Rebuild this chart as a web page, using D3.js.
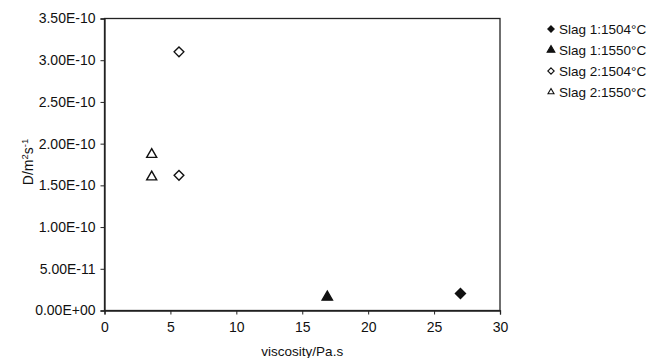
<!DOCTYPE html>
<html>
<head>
<meta charset="utf-8">
<script src="https://cdn.jsdelivr.net/npm/d3@7"></script>
<style>
  body { margin: 0; background: #fff; }
  text { font-family: "Liberation Sans", Arial, sans-serif; fill: #111; }
</style>
</head>
<body>
<svg id="chart" width="652" height="358"></svg>
<script>
// series: [viscosity Pa.s, D m2/s]
const slag1_1504 = [[27.0, 2.05e-11]];
const slag1_1550 = [[16.9, 1.6e-11]];
const slag2_1504 = [[5.65, 3.1e-10], [5.65, 1.62e-10]];
const slag2_1550 = [[3.58, 1.87e-10], [3.58, 1.60e-10]];

const seriesNames = ["Slag 1:1504°C", "Slag 1:1550°C", "Slag 2:1504°C", "Slag 2:1550°C"];
const xTicks = [0, 5, 10, 15, 20, 25, 30];
const yTicks = [0, 5e-11, 1e-10, 1.5e-10, 2e-10, 2.5e-10, 3e-10, 3.5e-10];
const yTickLabels = ["0.00E+00", "5.00E-11", "1.00E-10", "1.50E-10", "2.00E-10", "2.50E-10", "3.00E-10", "3.50E-10"];

const svg = d3.select("#chart");
const plotL = 104.5, plotR = 500, plotT = 18.5, plotB = 310.5;

const x = d3.scaleLinear().domain([0, 30]).range([plotL, plotR]);
const y = d3.scaleLinear().domain([0, 3.5e-10]).range([plotB, plotT]);

// plot frame
svg.append("rect").attr("x", plotL).attr("y", plotT)
  .attr("width", plotR - plotL).attr("height", plotB - plotT)
  .attr("fill", "none").attr("stroke", "#222").attr("stroke-width", 1.3);

const xAxis = svg.append("g").attr("transform", `translate(0,${plotB})`)
  .call(d3.axisBottom(x).tickValues(xTicks).tickSize(4).tickPadding(8).tickFormat(d3.format("d")));
const yAxis = svg.append("g").attr("transform", `translate(${plotL},0)`)
  .call(d3.axisLeft(y).tickValues(yTicks).tickSize(4).tickPadding(5)
    .tickFormat((d, i) => yTickLabels[i]));
[xAxis, yAxis].forEach(a => {
  a.select(".domain").attr("stroke", "#222").attr("stroke-width", 1.3);
  a.selectAll(".tick line").attr("stroke", "#222");
  a.selectAll("text").attr("font-size", 14).attr("fill", "#111")
    .style("font-family", "'Liberation Sans', Arial, sans-serif");
});

// axis titles
svg.append("text").attr("x", (plotL + plotR) / 2).attr("y", 356)
  .attr("text-anchor", "middle").attr("font-size", 13.5).text("viscosity/Pa.s");
const yt = svg.append("text").attr("transform", "translate(33,162) rotate(-90)")
  .attr("text-anchor", "middle").attr("font-size", 14);
yt.append("tspan").text("D/m");
yt.append("tspan").attr("font-size", 9.5).attr("dy", -5).text("2");
yt.append("tspan").attr("dy", 5).text("s");
yt.append("tspan").attr("font-size", 9.5).attr("dy", -5).text("-1");

// markers
const styles = [
  { data: slag1_1504, type: d3.symbolDiamond2, fill: "#111", size: 64 },
  { data: slag1_1550, type: d3.symbolTriangle, fill: "#111", size: 46 },
  { data: slag2_1504, type: d3.symbolDiamond2, fill: "none", size: 60 },
  { data: slag2_1550, type: d3.symbolTriangle2, fill: "none", size: 72 }
];

styles.forEach(s => {
  svg.append("g").selectAll("path").data(s.data).enter().append("path")
    .attr("transform", d => `translate(${x(d[0])},${y(d[1])})`)
    .attr("d", d3.symbol().type(s.type).size(s.size))
    .attr("fill", s.fill).attr("stroke", "#111").attr("stroke-width", 1.4);
});

// legend
const legend = svg.append("g").attr("transform", "translate(551,29)");
const rows = legend.selectAll("g").data(seriesNames).enter().append("g")
  .attr("transform", (d, i) => `translate(0,${i * 21})`);
rows.append("path")
  .attr("d", (d, i) => d3.symbol().type(styles[i].type).size(26)())
  .attr("fill", (d, i) => styles[i].fill).attr("stroke", "#111").attr("stroke-width", 1.1);
rows.append("text").attr("x", 8).attr("y", 5).attr("font-size", 13.5).text(d => d);
</script>
</body>
</html>
